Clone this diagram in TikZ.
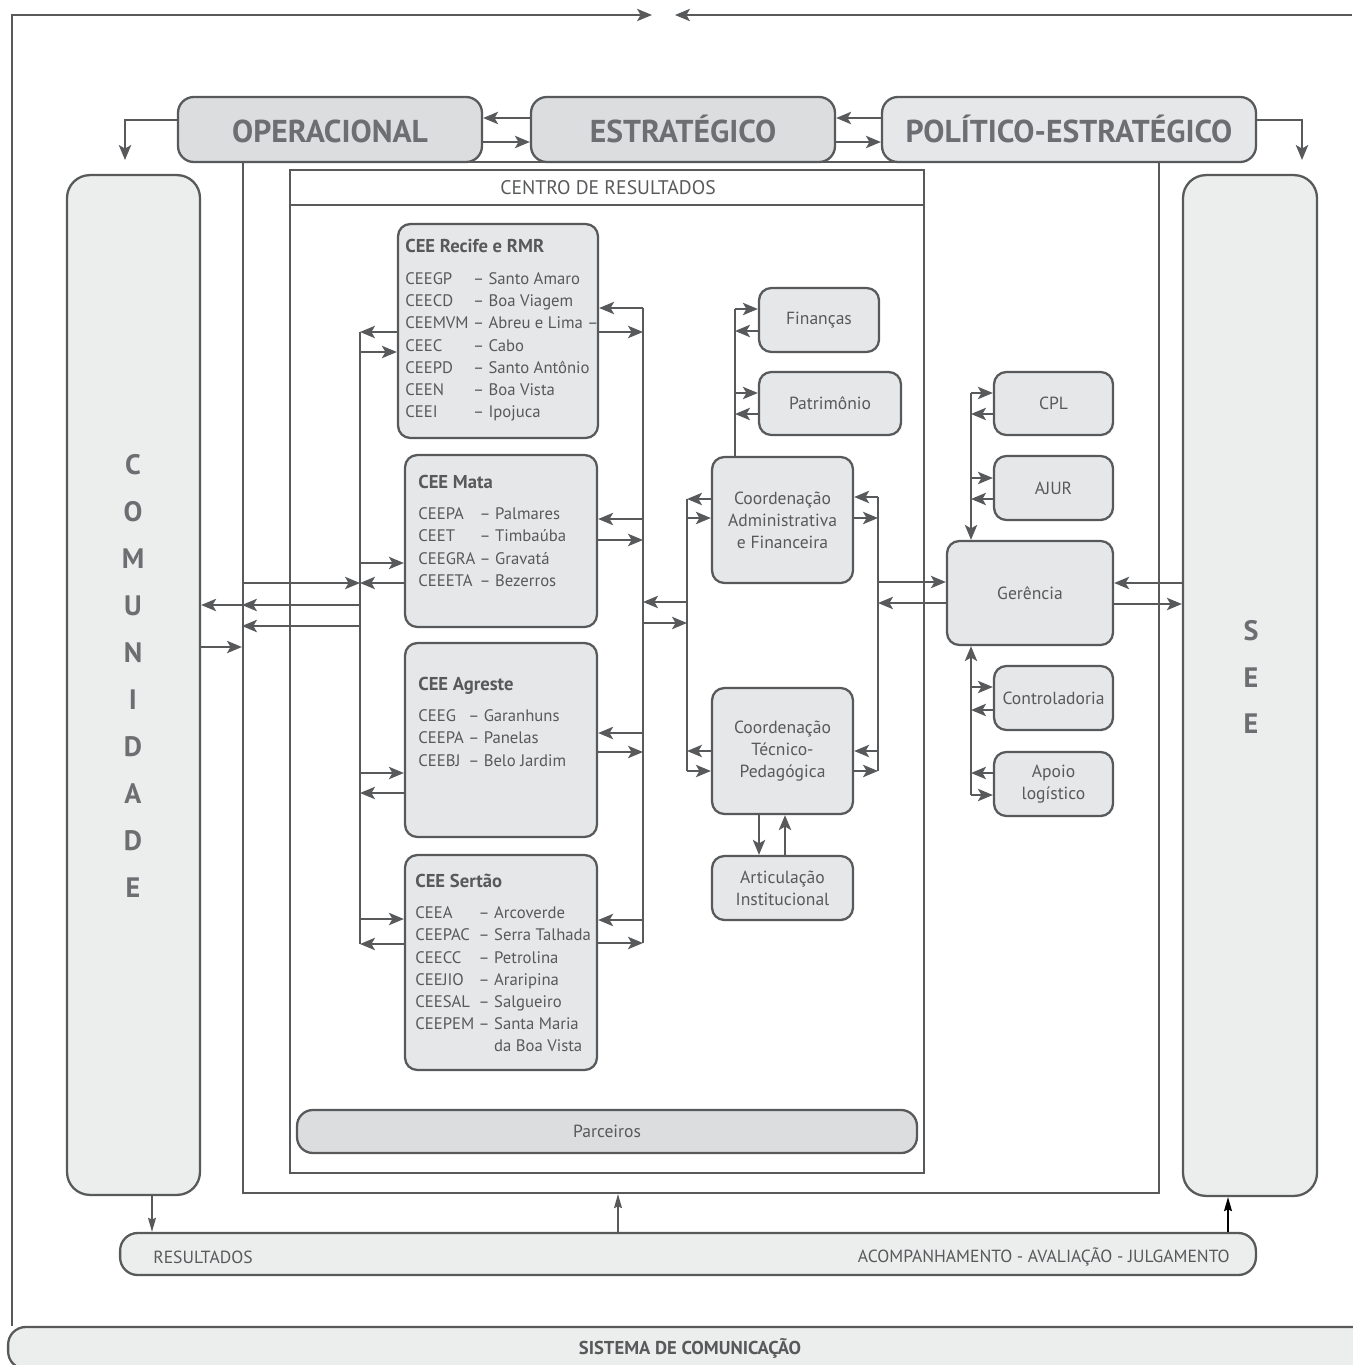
\documentclass[tikz,border=0pt]{standalone}
\usepackage{fontspec}
\setmainfont{PT Sans}
\usetikzlibrary{arrows.meta,positioning,calc}
\definecolor{linegray}{RGB}{88,89,91}
\definecolor{textgray}{RGB}{88,89,91}
\definecolor{headgray}{RGB}{109,110,113}
\definecolor{boxfill}{RGB}{230,231,232}
\definecolor{darkfill}{RGB}{220,221,223}
\definecolor{sidefill}{RGB}{236,237,237}
\newcommand{\ceetitle}[1]{\multicolumn{3}{@{}l@{}}{\fontsize{10.6}{12.6}\selectfont\bfseries #1}}
\tikzset{
  % caixa base
  box/.style={
    draw=linegray,
    line width=1.3pt,
    rounded corners=7pt,
    fill=boxfill,
    inner sep=0pt,
    align=center,
    text=textgray,
    font=\fontsize{10}{12.6}\selectfont
  },
  % niveis do topo
  level/.style={box, rounded corners=9pt, minimum height=1.3cm,
    text height=15.3pt, text depth=0pt,
    text=headgray, font=\fontsize{18}{20}\selectfont\bfseries},
  % colunas laterais
  side/.style={box, fill=sidefill, rounded corners=13pt},
  % retangulos sem preenchimento
  frame/.style={draw=linegray, line width=1.3pt, inner sep=0pt},
  % texto das CEEs
  ceetxt/.style={inner sep=0pt, anchor=north west, text=textgray,
    font=\fontsize{9.5}{12.6}\selectfont},
  smalltxt/.style={inner sep=0pt, text=textgray, font=\fontsize{10}{12}\selectfont},
  letters/.style={align=center, text=headgray,
    font=\fontsize{16}{26.7}\selectfont\bfseries},
  % linhas e setas
  wire/.style={linegray, line width=1.3pt},
  arr/.style={wire, -{Stealth[length=8.5pt, width=7pt, inset=2pt]}},
  thinarr/.style={linegray, line width=0.8pt, -{Stealth[length=8pt, width=4.5pt, inset=1pt]}},
}

\begin{document}
\begin{tikzpicture}[x=0.02cm, y=-0.02cm]
  \useasboundingbox (0,0) rectangle (1352,1365);

  % Sistema de comunicacao e moldura
  \node[side, rounded corners=10pt, minimum width=27.28cm, minimum height=0.84cm,
    font=\fontsize{10.6}{12}\selectfont\bfseries] (sistema) at (690,1348) {SISTEMA DE COMUNICAÇÃO};
  \draw[arr, line width=1pt] (sistema.north -| 12,0) |- (652,15);
  \draw[arr, line width=1pt] (1352,15) -- (675,15);

  % Areas
  \node[frame, minimum width=18.32cm, minimum height=20.62cm] (area) at (701,677.5) {};
  \node[frame, minimum width=12.68cm, minimum height=20.06cm] (centro) at (607,671.5) {};
  \draw[wire] (centro.west |- 0,205) -- (centro.east |- 0,205);
  \node[smalltxt, font=\fontsize{11.2}{13}\selectfont] (centrotit) at (608,188) {CENTRO DE RESULTADOS};

  % Niveis
  \node[level, fill=darkfill, minimum width=6.08cm] (oper) at (330,129.5) {OPERACIONAL};
  \node[level, fill=darkfill, minimum width=6.08cm] (estr) at (683,129.5) {ESTRATÉGICO};
  \node[level, minimum width=7.48cm] (polit) at (1069,129.5) {POLÍTICO-ESTRATÉGICO};
  \draw[arr] (estr.west |- 0,118) -- (oper.east |- 0,118);
  \draw[arr] (oper.east |- 0,142) -- (estr.west |- 0,142);
  \draw[arr] (polit.west |- 0,118) -- (estr.east |- 0,118);
  \draw[arr] (estr.east |- 0,142) -- (polit.west |- 0,142);
  \coordinate (comtop) at (125,160);
  \coordinate (seetop) at (1302,160);
  \draw[arr] (oper.west |- 0,120) -| (comtop);
  \draw[arr] (polit.east |- 0,120) -| (seetop);

  % Comunidade e SEE
  \node[side, minimum width=2.66cm, minimum height=20.4cm] (comun) at (133.5,685) {};
  \node[letters] (comuntxt) at (133,676) {C\\O\\M\\U\\N\\I\\D\\A\\D\\E};
  \node[side, minimum width=2.68cm, minimum height=20.42cm] (see) at (1250,685.5) {};
  \node[letters] (seetxt) at (1251,677) {S\\E\\E};

  % CEEs
  \node[box, minimum width=4cm, minimum height=4.28cm] (recife) at (498,331) {};
  \node[ceetxt] (recifetxt) at (405,237) {\begin{tabular}{@{}l@{\ }l@{\ }l@{}}
    \ceetitle{CEE Recife e RMR}\\[5.5pt]
    CEEGP & -- & Santo Amaro\\
    CEECD & -- & Boa Viagem\\
    CEEMVM & -- & Abreu e Lima --\\
    CEEC & -- & Cabo\\
    CEEPD & -- & Santo Antônio\\
    CEEN & -- & Boa Vista\\
    CEEI & -- & Ipojuca
  \end{tabular}};
  \node[box, minimum width=3.84cm, minimum height=3.44cm] (mata) at (501,541) {};
  \node[ceetxt] (matatxt) at (418,473) {\begin{tabular}{@{}l@{\ }l@{\ }l@{}}
    \ceetitle{CEE Mata}\\[5pt]
    CEEPA & -- & Palmares\\
    CEET & -- & Timbaúba\\
    CEEGRA & -- & Gravatá\\
    CEEETA & -- & Bezerros
  \end{tabular}};
  \node[box, minimum width=3.84cm, minimum height=3.88cm] (agreste) at (501,740) {};
  \node[ceetxt] (agrestetxt) at (418,675) {\begin{tabular}{@{}l@{\ }l@{\ }l@{}}
    \ceetitle{CEE Agreste}\\[5pt]
    CEEG & -- & Garanhuns\\
    CEEPA & -- & Panelas\\
    CEEBJ & -- & Belo Jardim
  \end{tabular}};
  \node[box, minimum width=3.84cm, minimum height=4.3cm] (sertao) at (501,962.5) {};
  \node[ceetxt] (sertaotxt) at (415,872) {\begin{tabular}{@{}l@{\ }l@{\ }l@{}}
    \ceetitle{CEE Sertão}\\[5pt]
    CEEA & -- & Arcoverde\\
    CEEPAC & -- & Serra Talhada\\
    CEECC & -- & Petrolina\\
    CEEJIO & -- & Araripina\\
    CEESAL & -- & Salgueiro\\
    CEEPEM & -- & Santa Maria\\
     & & da Boa Vista
  \end{tabular}};

  % Coordenacoes
  \node[box, minimum width=2.4cm, minimum height=1.28cm] (financas) at (819,320) {Finanças};
  \node[box, minimum width=2.84cm, minimum height=1.26cm] (patrim) at (830,403.5) {Patrimônio};
  \node[box, minimum width=2.82cm, minimum height=2.52cm] (coordadm) at (782.5,520) {Coordenação\\Administrativa\\e Financeira};
  \node[box, minimum width=2.82cm, minimum height=2.52cm] (coordtec) at (782.5,751) {Coordenação\\Técnico-\\Pedagógica};
  \node[box, minimum width=2.82cm, minimum height=1.28cm] (articul) at (782.5,888) {Articulação\\Institucional};

  % Gerencia
  \node[box, minimum width=2.38cm, minimum height=1.26cm] (cpl) at (1053.5,403.5) {CPL};
  \node[box, minimum width=2.38cm, minimum height=1.28cm] (ajur) at (1053.5,488) {AJUR};
  \node[box, minimum width=3.32cm, minimum height=2.08cm] (gerencia) at (1030,593) {Gerência};
  \node[box, minimum width=2.38cm, minimum height=1.28cm] (control) at (1053.5,698) {Controladoria};
  \node[box, minimum width=2.38cm, minimum height=1.28cm] (apoio) at (1053.5,784) {Apoio\\logístico};

  % Parceiros e resultados
  \node[box, fill=darkfill, rounded corners=9pt, minimum width=12.4cm, minimum height=0.86cm] (parc) at (607,1131.5) {Parceiros};
  \node[side, rounded corners=10pt, minimum width=22.72cm, minimum height=0.84cm] (result) at (688,1254) {};
  \node[smalltxt, anchor=west] (resesq) at (153,1257) {RESULTADOS};
  \node[smalltxt, anchor=east] (resdir) at (1230,1257) {ACOMPANHAMENTO - AVALIAÇÃO - JULGAMENTO};

  % Barramento esquerdo das CEEs
  \coordinate (lbus1) at (360,332);
  \coordinate (lbus2) at (360,944);
  \draw[wire] (lbus1) -- (lbus2);
  \foreach \n/\y in {recife/352, mata/563, agreste/773, sertao/919}
    \draw[arr] (lbus1 |- 0,\y) -- (\n.west |- 0,\y);
  \foreach \n/\y in {recife/332, mata/583, agreste/793, sertao/944}
    \draw[arr] (\n.west |- 0,\y) -- (lbus1 |- 0,\y);

  % Barramento direito das CEEs
  \coordinate (rbus1) at (643,308);
  \coordinate (rbus2) at (643,943);
  \draw[wire] (rbus1) -- (rbus2);
  \foreach \n/\y in {recife/308, mata/519, agreste/733, sertao/920}
    \draw[arr] (rbus1 |- 0,\y) -- (\n.east |- 0,\y);
  \foreach \n/\y in {recife/332, mata/540, agreste/752, sertao/943}
    \draw[arr] (\n.east |- 0,\y) -- (rbus1 |- 0,\y);

  % Ligacoes com a comunidade
  \draw[arr] (area.west |- 0,583) -- (lbus1 |- 0,583);
  \draw[arr] (lbus1 |- 0,605) -- (area.west |- 0,605);
  \draw[arr] (area.west |- 0,605) -- (comun.east |- 0,605);
  \draw[arr] (lbus1 |- 0,626) -- (area.west |- 0,626);
  \draw[arr] (comun.east |- 0,647) -- (area.west |- 0,647);

  % Barramentos das coordenacoes
  \coordinate (cbusl1) at (687,499);
  \coordinate (cbusl2) at (687,771);
  \coordinate (cbusr1) at (878,497);
  \coordinate (cbusr2) at (878,771);
  \draw[wire] (cbusl1) -- (cbusl2);
  \draw[wire] (cbusr1) -- (cbusr2);
  \draw[arr] (cbusl1 |- 0,602) -- (rbus1 |- 0,602);
  \draw[arr] (rbus1 |- 0,623) -- (cbusl1 |- 0,623);
  \foreach \n/\a/\b in {coordadm/499/518, coordtec/751/771} {
    \draw[arr] (\n.west |- 0,\a) -- (cbusl1 |- 0,\a);
    \draw[arr] (cbusl1 |- 0,\b) -- (\n.west |- 0,\b);
  }
  \foreach \n/\a/\b in {coordadm/497/518, coordtec/751/771} {
    \draw[arr] (cbusr1 |- 0,\a) -- (\n.east |- 0,\a);
    \draw[arr] (\n.east |- 0,\b) -- (cbusr1 |- 0,\b);
  }
  \draw[arr] (coordtec.south -| 759,0) -- (articul.north -| 759,0);
  \draw[arr] (articul.north -| 785,0) -- (coordtec.south -| 785,0);

  % Financas e patrimonio
  \coordinate (fbus) at (735,309);
  \draw[wire] (coordadm.north -| fbus) -- (fbus);
  \foreach \n/\a/\b in {financas/309/331, patrim/393/414} {
    \draw[arr] (fbus |- 0,\a) -- (\n.west |- 0,\a);
    \draw[arr] (\n.west |- 0,\b) -- (fbus |- 0,\b);
  }

  % Gerencia
  \draw[arr] (cbusr1 |- 0,582) -- (gerencia.west |- 0,582);
  \draw[arr] (gerencia.west |- 0,603) -- (cbusr1 |- 0,603);
  \draw[arr] (see.west |- 0,583) -- (gerencia.east |- 0,583);
  \draw[arr] (gerencia.east |- 0,604) -- (see.west |- 0,604);
  \coordinate (gbus1) at (971,393);
  \coordinate (gbus2) at (971,795);
  \draw[arr] (gbus1) -- (gerencia.north -| gbus1);
  \draw[arr] (gbus2) -- (gerencia.south -| gbus2);
  \foreach \n/\a/\b in {cpl/393/414, ajur/478/499, control/687/710} {
    \draw[arr] (gbus1 |- 0,\a) -- (\n.west |- 0,\a);
    \draw[arr] (\n.west |- 0,\b) -- (gbus1 |- 0,\b);
  }
  \draw[arr] (apoio.west |- 0,773) -- (gbus2 |- 0,773);
  \draw[arr] (gbus2) -- (apoio.west |- gbus2);

  % Resultados
  \draw[thinarr] (comun.south -| 152,0) -- (result.north -| 152,0);
  \draw[thinarr] (result.north -| 618,0) -- (area.south -| 618,0);
  \draw[thinarr, black] (result.north -| 1228,0) -- (see.south -| 1228,0);
\end{tikzpicture}
\end{document}
